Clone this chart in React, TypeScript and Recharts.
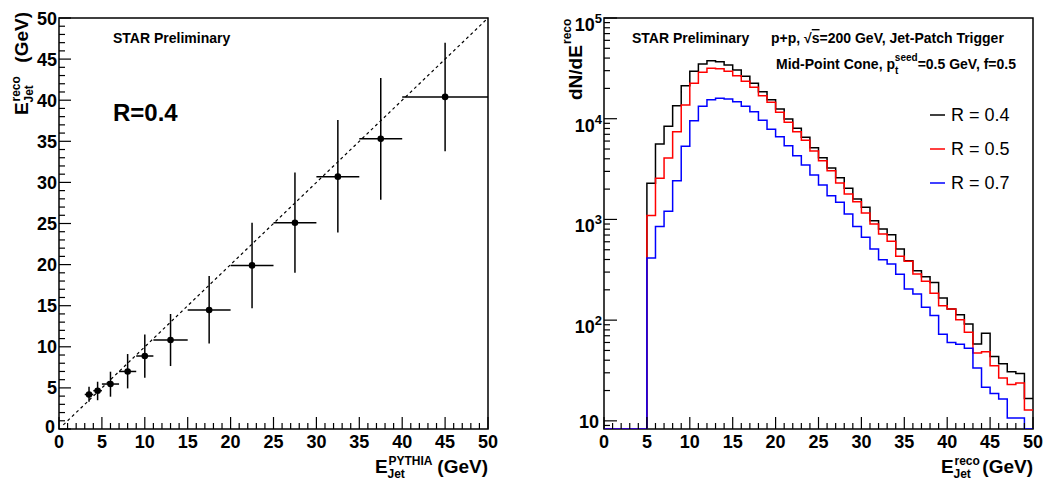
import {
    ComposedChart,
    Line,
    Scatter,
    ErrorBar,
    XAxis,
    YAxis,
    ReferenceLine,
    ReferenceArea,
    Legend,
} from "recharts";

const FONT = "'Liberation Sans', Arial, Helvetica, sans-serif";

// ---- left panel: reconstructed vs PYTHIA jet energy (R=0.4) ----
const PYTHIA_E = [3.5, 4.5, 6, 8, 10, 13, 17.5, 22.5, 27.5, 32.5, 37.5, 45];
const PYTHIA_BIN_LO = [3, 4, 5, 7, 9, 11, 15, 20, 25, 30, 35, 40];
const PYTHIA_BIN_HI = [4, 5, 7, 9, 11, 15, 20, 25, 30, 35, 40, 50];
const RECO_E = [4.2, 4.66, 5.47, 7.0, 8.88, 10.83, 14.48, 19.9, 25.1, 30.7, 35.3, 40.4];
const RECO_LO = [3.3, 3.5, 3.93, 4.94, 6.24, 7.66, 10.4, 14.7, 19.0, 23.9, 27.9, 33.8];
const RECO_HI = [5.15, 5.75, 6.97, 9.12, 11.5, 13.99, 18.6, 25.1, 31.2, 37.6, 42.7, 47.0];
const DIAGONAL = [{ x: 0.5, y: 0.5 }, { x: 50, y: 50 }];

// ---- right panel: dN/dE^reco histograms, 1 GeV bins ----
const BIN_LOW_EDGES = [
    0, 1, 2, 3, 4, 5, 6, 7, 8, 9, 10, 11, 12, 13, 14, 15, 16, 17, 18, 19, 20, 21, 22, 23, 24,
    25, 26, 27, 28, 29, 30, 31, 32, 33, 34, 35, 36, 37, 38, 39, 40, 41, 42, 43, 44, 45, 46, 47, 48, 49,
];
const UPPER_EDGE = 50;
const COUNTS_R04 = [
    0, 0, 0, 0, 0, 2290, 5610, 8400, 13460, 21270, 29580, 34920, 37670, 36800, 34150, 30460, 26370,
    22480, 18540, 15450, 12480, 9930, 8020, 6530, 5150, 4100, 3240, 2590, 2035, 1595, 1318, 970, 803,
    705, 508, 389, 310, 270, 237, 166, 129, 113, 91.5, 58, 74, 43.6, 36.9, 30.7, 29.6, 16.7,
];
const COUNTS_R05 = [
    0, 0, 0, 0, 0, 1095, 2560, 4070, 7430, 13680, 22480, 28900, 31620, 31300, 29580, 26720, 23520,
    20500, 16930, 14550, 11560, 9200, 7430, 6100, 4780, 3830, 3050, 2300, 1790, 1500, 1158, 900, 716,
    606, 430, 385, 287, 243, 185, 139, 129, 101, 75.7, 47.1, 48.6, 35.2, 26.6, 23.0, 23.7, 12.8,
];
const COUNTS_R07 = [
    0, 0, 0, 0, 0, 414, 850, 1203, 2420, 5320, 9550, 13280, 15450, 15920, 15690, 14750, 13280, 11740,
    9630, 7870, 6630, 5390, 4290, 3470, 2760, 2195, 1720, 1478, 1130, 853, 664, 508, 398, 361, 285,
    204, 182, 134, 111, 72.3, 60, 57.5, 52.5, 33.4, 21.5, 18.7, 16.5, 10.7, 10.7, 0,
];
const SERIES = [
    { key: "r04", name: "R = 0.4", color: "#000000", counts: COUNTS_R04 },
    { key: "r05", name: "R = 0.5", color: "#ff0000", counts: COUNTS_R05 },
    { key: "r07", name: "R = 0.7", color: "#0000ff", counts: COUNTS_R07 },
];

const LOG_FLOOR = 8.3;
const LOG_TOP = 100000;

const LIN_TICKS = Array.from({ length: 51 }, (_, i) => i);
const LOG_TICKS = [9, ...[10, 100, 1000, 10000].flatMap((d) => [1, 2, 3, 4, 5, 6, 7, 8, 9].map((m) => d * m)), LOG_TOP];

const scatterData = PYTHIA_E.map((x, i) => ({
    x,
    y: RECO_E[i],
    ex: [x - PYTHIA_BIN_LO[i], PYTHIA_BIN_HI[i] - x],
    ey: [RECO_E[i] - RECO_LO[i], RECO_HI[i] - RECO_E[i]],
}));

// empty bins sit on the frame floor, like ROOT draws them
const histData = [...BIN_LOW_EDGES, UPPER_EDGE].map((x, i) => {
    const k = Math.min(i, BIN_LOW_EDGES.length - 1);
    const row: Record<string, number> = { x };
    SERIES.forEach((s) => {
        row[s.key] = Math.max(s.counts[k], LOG_FLOOR);
    });
    return row;
});

const tickText = { fontFamily: FONT, fontSize: 18, fontWeight: 700, fill: "#000" };

function BottomTick(props: any) {
    const { x, y, payload } = props;
    const v = payload.value;
    const major = v % 5 === 0;
    return (
        <g>
            <line x1={x} x2={x} y1={y} y2={y - (major ? 12 : 6)} stroke="#000" strokeWidth={1.2} />
            {major && (
                <text x={x} y={y + 19} textAnchor="middle" {...tickText}>
                    {v}
                </text>
            )}
        </g>
    );
}

function LeftLinTick(props: any) {
    const { x, y, payload } = props;
    const v = payload.value;
    const major = v % 5 === 0;
    // the zero label is nudged up-left so it clears the x-axis zero
    const dx = v === 0 ? 4 : 2;
    const dy = v === 0 ? 4 : 6.5;
    return (
        <g>
            <line x1={x} x2={x + (major ? 12 : 6)} y1={y} y2={y} stroke="#000" strokeWidth={1.2} />
            {major && (
                <text x={x - dx} y={y + dy} textAnchor="end" {...tickText}>
                    {v}
                </text>
            )}
        </g>
    );
}

function LeftLogTick(props: any) {
    const { x, y, payload } = props;
    const v = payload.value;
    const l = Math.log10(v);
    const major = Math.abs(l - Math.round(l)) < 1e-9;
    const exp = Math.round(l);
    return (
        <g>
            <line x1={x} x2={x + (major ? 13 : 6)} y1={y} y2={y} stroke="#000" strokeWidth={1.2} />
            {major && exp === 1 && (
                <text x={x - 5} y={y + 7} textAnchor="end" {...tickText}>
                    10
                </text>
            )}
            {major && exp > 1 && (
                <text x={x - 2} y={y + 13} textAnchor="end" {...tickText}>
                    10
                    <tspan dy={-8} fontSize={13}>
                        {exp}
                    </tspan>
                </text>
            )}
        </g>
    );
}

const titleText = { fontFamily: FONT, fontSize: 19, fontWeight: 700, fill: "#000" };
const scriptText = { fontFamily: FONT, fontSize: 12, fontWeight: 700, fill: "#000" };
const noteText = { fontFamily: FONT, fontSize: 14, fontWeight: 700, fill: "#000" };

function EnergyTitle({ sup, end }: { sup: string; end: number }) {
    // E^{sup}_{Jet} (GeV), drawn from the origin along +x
    return (
        <>
            <text x={0} y={0} {...titleText}>E</text>
            <text x={13.5} y={-8} {...scriptText}>{sup}</text>
            <text x={12.5} y={5} {...scriptText}>Jet</text>
            <text x={end} y={0} textAnchor="end" {...titleText}>(GeV)</text>
        </>
    );
}

function HistLegend(props: any) {
    const { payload } = props;
    return (
        <div style={{ fontFamily: FONT }}>
            {(payload ?? []).map((entry: any) => (
                <div key={entry.value} style={{ height: 34, display: "flex", alignItems: "center" }}>
                    <svg width={15} height={4} style={{ marginRight: 6 }}>
                        <line x1={0} x2={15} y1={2} y2={2} stroke={entry.color} strokeWidth={1.5} />
                    </svg>
                    <span style={{ fontSize: 18, color: "#000", lineHeight: "34px" }}>{entry.value}</span>
                </div>
            ))}
        </div>
    );
}

export default function App() {
    return (
        <div style={{ position: "absolute", left: 0, top: 0, width: 1045, height: 481, background: "#fff" }}>
            <div style={{ position: "absolute", left: 0, top: 0 }}>
                <ComposedChart width={520} height={481} data={scatterData} margin={{ top: 18, right: 32, bottom: 0, left: 0 }}>
                    <XAxis
                        dataKey="x"
                        type="number"
                        domain={[0, 50]}
                        ticks={LIN_TICKS}
                        interval={0}
                        height={52}
                        axisLine={false}
                        tickLine={false}
                        tickSize={0}
                        tickMargin={0}
                        tick={<BottomTick />}
                    />
                    <YAxis
                        dataKey="y"
                        type="number"
                        domain={[0, 50]}
                        ticks={LIN_TICKS}
                        interval={0}
                        width={59}
                        axisLine={false}
                        tickLine={false}
                        tickSize={0}
                        tickMargin={0}
                        tick={<LeftLinTick />}
                    />
                    <ReferenceArea x1={0} x2={50} y1={0} y2={50} fill="none" stroke="#000" strokeWidth={1.5} ifOverflow="visible" />
                    <ReferenceLine segment={DIAGONAL} stroke="#000" strokeWidth={1.2} strokeDasharray="3 3" />
                    <Scatter
                        dataKey="y"
                        isAnimationActive={false}
                        shape={(p: any) => <circle cx={p.cx} cy={p.cy} r={3.3} fill="#000" />}
                    >
                        <ErrorBar dataKey="ex" direction="x" width={0} stroke="#000" strokeWidth={1.5} />
                        <ErrorBar dataKey="ey" direction="y" width={0} stroke="#000" strokeWidth={1.5} />
                    </Scatter>
                    <text x={113} y={43} {...noteText}>STAR Preliminary</text>
                    <text x={113} y={121} fontFamily={FONT} fontSize={24} fontWeight={700} fill="#000">R=0.4</text>
                    <g transform="translate(375, 473)">
                        <EnergyTitle sup="PYTHIA" end={113} />
                    </g>
                    <g transform="translate(28, 115) rotate(-90)">
                        <EnergyTitle sup="reco" end={103} />
                    </g>
                </ComposedChart>
            </div>
            <div style={{ position: "absolute", left: 520, top: 0 }}>
                <ComposedChart width={525} height={481} data={histData} margin={{ top: 18, right: 12, bottom: 0, left: 0 }}>
                    <XAxis
                        dataKey="x"
                        type="number"
                        domain={[0, 50]}
                        ticks={LIN_TICKS}
                        interval={0}
                        height={52}
                        axisLine={false}
                        tickLine={false}
                        tickSize={0}
                        tickMargin={0}
                        tick={<BottomTick />}
                    />
                    <YAxis
                        type="number"
                        scale="log"
                        domain={[LOG_FLOOR, LOG_TOP]}
                        allowDataOverflow
                        ticks={LOG_TICKS}
                        interval={0}
                        width={84}
                        axisLine={false}
                        tickLine={false}
                        tickSize={0}
                        tickMargin={0}
                        tick={<LeftLogTick />}
                    />
                    <ReferenceArea x1={0} x2={50} y1={LOG_FLOOR} y2={LOG_TOP} fill="none" stroke="#000" strokeWidth={1.5} ifOverflow="visible" />
                    {SERIES.map((s) => (
                        <Line
                            key={s.key}
                            dataKey={s.key}
                            name={s.name}
                            type="stepAfter"
                            stroke={s.color}
                            strokeWidth={1.5}
                            dot={false}
                            activeDot={false}
                            isAnimationActive={false}
                        />
                    ))}
                    <Legend
                        layout="vertical"
                        align="center"
                        verticalAlign="middle"
                        content={<HistLegend />}
                        wrapperStyle={{ left: 410, top: 98, width: 110 }}
                    />
                    <text x={112} y={43} {...noteText}>STAR Preliminary</text>
                    <text x={251} y={43} {...noteText}>
                        p+p, √<tspan textDecoration="overline">s</tspan>=200 GeV, Jet-Patch Trigger
                    </text>
                    <text x={256} y={69} {...noteText}>
                        Mid-Point Cone, p
                        <tspan dy={5} fontSize={10}>t</tspan>
                        <tspan dx={-3.5} dy={-13} fontSize={10}>seed</tspan>
                        <tspan dy={8}>=0.5 GeV, f=0.5</tspan>
                    </text>
                    <g transform="translate(421, 473)">
                        <EnergyTitle sup="reco" end={92} />
                    </g>
                    <g transform="translate(62, 100) rotate(-90)">
                        <text x={0} y={0} {...titleText}>dN/dE</text>
                        <text x={56} y={-11} {...scriptText}>reco</text>
                    </g>
                </ComposedChart>
            </div>
        </div>
    );
}
